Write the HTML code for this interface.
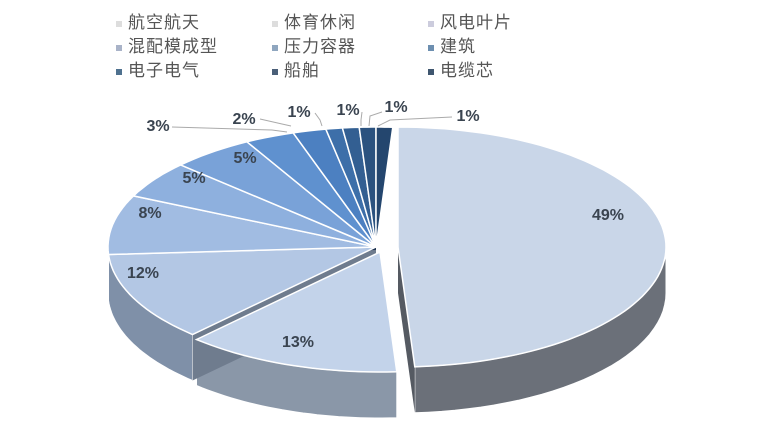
<!DOCTYPE html>
<html><head><meta charset="utf-8"><style>
body{margin:0;background:#fff;width:757px;height:431px;overflow:hidden;font-family:"Liberation Sans","Noto Sans CJK SC",sans-serif}
.lg{position:absolute;font-size:17px;color:#555;letter-spacing:1px}
.lg i{display:inline-block;width:6px;height:6px;margin-right:6px;vertical-align:middle}
</style></head><body>
<div class="lg" style="left:116px;top:8px"><i style="background:#ddd"></i>航空航天</div>
<div class="lg" style="left:272px;top:8px"><i style="background:#ddd"></i>体育休闲</div>
<div class="lg" style="left:428px;top:8px"><i style="background:#ccd"></i>风电叶片</div>
<div class="lg" style="left:116px;top:32px"><i style="background:#a9b3c8"></i>混配模成型</div>
<div class="lg" style="left:272px;top:32px"><i style="background:#8fa6bf"></i>压力容器</div>
<div class="lg" style="left:428px;top:32px"><i style="background:#6d8fb0"></i>建筑</div>
<div class="lg" style="left:116px;top:56px"><i style="background:#4f718f"></i>电子电气</div>
<div class="lg" style="left:272px;top:56px"><i style="background:#4a5f78"></i>船舶</div>
<div class="lg" style="left:428px;top:56px"><i style="background:#3f566f"></i>电缆芯</div>
<svg id="s" width="757" height="431" style="position:absolute;left:0;top:0"></svg>
<script>
var cx=376,cy=247,rx=268,ry=120,D=46;
var data=[49,13,12,8,5,5,3,2,1,1,1,1];
var tops=["#c9d6e8","#c3d3ea","#b3c7e4","#a1bce2","#8eb0de","#79a2d8","#5f91cf","#4c80c1","#3d6fa9","#335f92","#2b527f","#24466e"];
var sides=["#6b7079","#8a97a8","#7f90a8","#7a8da8","#6f86a6","#6682a6","#5a7aa3","#4e6f99","#45658d","#3e5b80","#364f70","#2f4562"];
var h='';
function P(x0,y0,a){var r=a*Math.PI/180;return [x0+rx*Math.sin(r),y0-ry*Math.cos(r)];}
var acc=0,sl=[];
data.forEach(function(v,i){var a1=acc*3.6,a2=(acc+v)*3.6;acc+=v;var dx=0,dy=0;
 if(i==0){dx=22;dy=0}
 if(i==1){dx=4;dy=5}
 sl.push([a1,a2,cx+dx,cy+dy,i]);});
var sideS='',topS='';
sl.forEach(function(s){var a1=s[0],a2=s[1],x0=s[2],y0=s[3],i=s[4];
 var b1=Math.max(a1,90),b2=Math.min(a2,270);
 if(b2>b1){var d='',n=30;var pts=[];
  for(var k=0;k<=n;k++){pts.push(P(x0,y0,b1+(b2-b1)*k/n));}
  d='M'+pts.map(function(p){return p[0].toFixed(1)+','+p[1].toFixed(1)}).join(' L');
  for(var k=n;k>=0;k--){var p=pts[k];d+=' L'+p[0].toFixed(1)+','+(p[1]+D).toFixed(1);}
  sideS+='<path d="'+d+'Z" fill="'+sides[i]+'" stroke="#fff" stroke-width="1"/>';}
 if(i==0){var e=P(x0,y0,a2);sideS+='<path d="M'+x0+','+y0+' L'+e[0]+','+e[1]+' L'+e[0]+','+(e[1]+D)+' L'+x0+','+(y0+D)+'Z" fill="#555a62"/>';}
 if(i==2){var e=P(x0,y0,a1);sideS+='<path d="M'+x0+','+y0+' L'+e[0]+','+e[1]+' L'+e[0]+','+(e[1]+D)+' L'+x0+','+(y0+D)+'Z" fill="#6f7c8e"/>';}
 if(i==2){var e=P(x0,y0,a2);sideS+='<path d="M'+x0+','+y0+' L'+e[0]+','+e[1]+' L'+e[0]+','+(e[1]+3)+' L'+x0+','+(y0+3)+'Z" fill="#1f3350"/>';}
 var n=Math.max(4,Math.round((a2-a1)/2)),d='M'+x0+','+y0;
 for(var k=0;k<=n;k++){var p=P(x0,y0,a1+(a2-a1)*k/n);d+=' L'+p[0].toFixed(1)+','+p[1].toFixed(1);}
 topS+='<path d="'+d+'Z" fill="'+tops[i]+'" stroke="#fff" stroke-width="1.5"/>';
});
h+=sideS+topS;
var L=[[608,220,'49%'],[298,347,'13%'],[143,278,'12%'],[150,218,'8%'],[194,183,'5%'],[245,163,'5%'],[158,131,'3%'],[244,124,'2%'],[299,117,'1%'],[348,115,'1%'],[396,112,'1%'],[468,121,'1%']];
L.forEach(function(l){h+='<text x="'+l[0]+'" y="'+l[1]+'" text-anchor="middle" font-family="Liberation Sans,sans-serif" font-weight="bold" font-size="16" fill="#3a4450">'+l[2]+'</text>';});
var ln=[[172,127,272,130,287,132],[260,119,282,124,291,126],[315,113,320,120,322,126],[362,112,361,120,361,126],[382,112,370,116,369,126],[452,117,390,120,378,126]];
ln.forEach(function(l){h+='<polyline points="'+l.join(',')+'" fill="none" stroke="#aaa" stroke-width="1"/>';});
document.getElementById('s').innerHTML=h;
</script>
</body></html>
